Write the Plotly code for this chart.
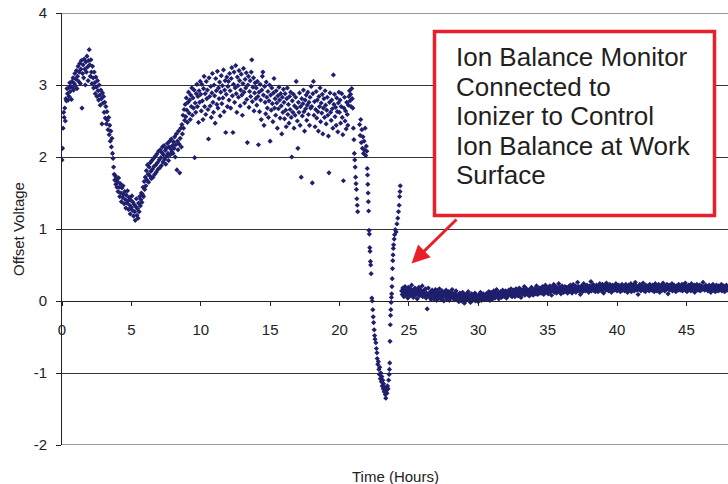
import numpy as np
import plotly.graph_objects as go

STEP = 0.04  # hours between logged readings

# Offset voltage readings in hundredths of a volt, logged every STEP hours.
v_00 = [196,212,240,262,255,268,250,281,278,295, 288,279,296,284,303,291,298,280,305,296,
        310,293,302,316,299,308,320,295,312,326, 305,318,330,302,322,334,268,316,328,310,
        336,322,300,332,318,340,325,306,334,349]
v_02 = [328,312,335,318,302,326,310,296,318,303, 288,311,297,284,306,292,279,300,286,272,
        293,281,246,289,275,284,262,276,254,270, 246,263,251,238,255,231,244,222,236,214,
        226,205,198,186,176,168,174,162,171,158]
v_04 = [166,152,171,158,145,163,150,138,157,144, 160,148,135,152,141,129,147,136,153,139,
        127,144,133,121,140,130,146,126,137,118, 134,124,112,131,142,119,128,115,136,124,
        145,132,141,150,137,148,158,145,166,155]
v_06 = [172,160,181,168,189,176,165,186,174,192, 180,170,195,183,172,198,187,176,201,189,
        179,204,192,183,208,196,185,210,199,188, 206,214,193,203,216,197,209,190,212,201,
        219,205,195,214,222,203,211,225,207,216]
v_08 = [205,221,212,228,200,217,232,182,222,210, 236,218,178,226,240,214,245,232,258,240,
        266,251,273,256,282,265,248,276,290,261, 279,252,286,270,296,258,282,268,293,199,
        275,262,288,301,270,284,248,292,276,305]
v_10 = [287,264,301,278,252,295,312,270,288,259, 305,281,293,266,225,310,284,271,298,255,
        289,316,276,262,300,285,247,309,292,273, 319,268,296,281,304,257,290,313,274,299,
        282,321,263,293,306,234,287,311,270,298]
v_12 = [305,279,316,292,268,309,324,285,234,301, 318,276,296,327,288,262,311,299,283,320,
        306,271,293,315,286,258,302,323,290,275, 308,296,317,280,220,300,312,269,291,306,
        284,318,335,277,297,310,264,289,303,281]
v_14 = [296,272,305,284,217,290,263,301,279,252, 293,312,318,286,244,298,276,260,304,283,
        268,291,255,278,300,222,286,265,296,274, 249,289,309,268,281,258,292,275,240,285,
        267,297,279,254,288,271,232,283,262,294]
v_16 = [276,253,288,265,242,281,296,259,273,247, 284,266,290,255,200,278,262,287,240,271,
        258,283,305,268,250,212,276,262,289,244, 270,172,281,257,274,293,263,236,279,267,
        286,251,272,290,259,276,244,283,268,298]
v_18 = [270,164,288,305,258,277,242,266,291,254, 279,263,236,284,270,296,249,275,261,287,
        232,268,281,255,292,272,246,265,283,258, 229,178,276,289,262,251,279,267,240,314,
        273,287,256,269,244,282,263,235,275,290]
v_20 = [262,279,247,270,288,255,231,167,268,283, 250,264,239,276,259,244,272,284,292,278,
        287,270,295,281,268,240]

# Sparse readings through the excursion (hours, volts)
dip_hours = [21.04,21.07,21.10,21.13,21.16,21.19,21.22,21.25,21.28,21.31,
             21.45,21.49,21.53,21.57,21.61,21.65,21.69,21.73,21.77,21.81,21.85,21.89,21.93,21.97,
             22.00,22.02,22.04,22.06,22.08,22.10,22.13,22.15,22.18,22.20,22.23,22.25,22.28,22.33,22.36,22.40,22.43,22.46,22.50,22.53,22.56,
             22.62,22.66,22.70,22.72,22.76,22.80,22.84,22.88,22.90,22.94,22.98,23.02,23.05,23.08,23.12,23.15,23.18,23.22,23.26,23.30,23.34,23.38,23.42,23.46,23.50,23.54,23.58,
             23.60,23.62,23.64,23.66,23.68,23.70,23.72,23.74,23.76,23.78,23.80,23.82,23.84,23.86,23.88,23.90,23.94,23.97,24.02,24.08,24.14,24.20,24.25,24.30,24.33,24.36,24.38]
dip_volts = [2.24,2.05,1.96,1.86,1.72,1.63,1.55,1.42,1.33,1.24,
             2.45,2.30,2.52,2.20,2.38,2.12,2.28,2.05,2.22,2.10,2.40,2.02,2.15,2.08,
             1.84,1.75,1.62,1.50,1.38,1.25,0.98,0.93,0.74,0.69,0.55,0.50,0.38,0.04,0.00,-0.12,-0.22,-0.30,-0.40,-0.48,-0.53,
             -0.58,-0.66,-0.72,-0.80,-0.88,-0.84,-0.95,-1.02,-0.92,-1.08,-1.00,-1.12,-1.05,-1.18,-1.10,-1.22,-1.15,-1.26,-1.20,-1.30,-1.35,-1.24,-1.28,-1.18,-1.22,-1.10,-1.02,
             -0.95,-0.86,-0.56,-0.33,-0.20,-0.12,-0.02,0.05,0.10,0.20,0.31,0.45,0.56,0.64,0.73,0.78,0.86,0.92,0.99,0.96,1.07,1.15,1.24,1.33,1.45,1.52,1.60]

# Controlled period, hundredths of a volt, every STEP hours
b_24 = [14,9,18,12,6,15,20,11,8,16,13,4,19,10,14,7,17,12,22,9,13,5,16,11,18,8,14,10,3,15,12,19,7,11,16,9,13,21,6,12,10,15,8,17,4,11,-11,9,18,7]
b_26 = [10,5,13,2,9,15,7,11,3,12,8,16,6,1,10,13,4,9,17,7,11,2,8,14,5,10,0,12,7,9,15,3,6,11,8,13,1,9,5,12,7,16,4,10,6,2,11,8,14,3]
b_28 = [6,2,9,-1,7,11,4,8,0,5,12,3,7,-3,9,5,1,10,6,3,13,2,8,4,-2,7,10,5,1,9,3,6,11,0,4,8,2,7,-1,5,9,3,12,6,1,8,4,10,2,7]
b_30 = [5,9,2,7,11,4,8,13,6,1,9,12,5,8,3,10,14,7,4,11,8,16,6,9,12,3,10,7,13,9,5,11,15,8,12,6,10,14,9,4,13,11,7,15,10,12,8,17,11,6]
b_32 = [12,8,15,10,6,13,17,11,9,14,7,12,18,10,13,5,15,11,9,16,12,20,8,14,11,17,13,9,15,12,7,16,14,10,19,13,11,8,15,12,17,14,10,21,13,9,16,12,18,11]
b_34 = [14,18,11,16,20,13,9,17,15,22,12,16,19,14,10,18,15,21,13,17,8,16,19,14,23,12,17,15,20,11,18,14,16,24,13,19,15,10,17,21,14,18,12,16,20,15,13,19,17,11]
b_36 = [16,20,13,18,22,15,19,11,17,23,14,18,16,21,12,19,17,26,15,20,14,18,9,16,21,17,13,19,24,16,18,14,20,17,22,15,19,12,18,21,16,27,14,19,17,23,15,18,20,13]
b_38 = [18,22,15,19,13,21,17,24,16,20,14,19,23,17,11,20,18,22,15,25,18,16,21,14,19,23,17,20,12,18,22,16,19,15,21,18,24,17,14,20,18,22,16,19,13,21,17,23,15,19]
b_40 = [17,21,14,19,23,16,20,12,18,22,15,19,17,24,13,20,18,16,22,14,19,26,17,21,15,18,9,20,16,23,18,14,21,17,19,25,15,20,18,13,22,17,19,16,21,18,14,23,17,20]
b_42 = [19,15,22,17,20,13,18,24,16,21,14,19,17,23,18,12,20,16,22,19,15,25,18,21,14,17,20,16,23,18,10,19,22,15,18,21,17,24,14,19,16,22,18,20,13,17,21,19,15,23]
b_44 = [18,21,15,20,17,23,14,19,22,16,18,25,15,20,13,19,17,22,16,21,18,14,24,17,20,15,19,22,12,18,21,16,23,19,15,20,17,22,14,18,21,16,19,26,17,20,15,18,22,16]
b_46 = [17,20,14,19,22,15,18,12,21,16,19,23,15,18,20,13,17,22,16,19,14,21,18,15,20,17,23,14,19,16,21,18,13,20,17,22,15,18]

y_ticks = [-2, -1, 0, 1, 2, 3, 4]
y_tick_text = ["-2", "-1", "0", "1", "2", "3", "4"]
x_ticks = [0, 5, 10, 15, 20, 25, 30, 35, 40, 45]

blocks = [(0.0, v_00), (2.0, v_02), (4.0, v_04), (6.0, v_06), (8.0, v_08), (10.0, v_10),
          (12.0, v_12), (14.0, v_14), (16.0, v_16), (18.0, v_18), (20.0, v_20),
          (24.48, b_24), (26.48, b_26), (28.48, b_28), (30.48, b_30), (32.48, b_32),
          (34.48, b_34), (36.48, b_36), (38.48, b_38), (40.48, b_40), (42.48, b_42),
          (44.48, b_44), (46.48, b_46)]

xs, ys = [], []
for start, vals in blocks:
    xs.extend(start + STEP * np.arange(len(vals)))
    ys.extend(np.array(vals) / 100.0)
xs.extend(dip_hours)
ys.extend(dip_volts)

note_lines = ["Ion Balance Monitor", "Connected to", "Ionizer to Control",
              "Ion Balance at Work", "Surface"]

FONT = "Arial, Liberation Sans, sans-serif"
GRID = "#333333"
L, R, T, B = 62, 0, 13, 39
W, H = 728, 484
PW, PH = W - L - R, H - T - B

def px(xp):
    return (xp - L) / PW

def py(yp):
    return (H - B - yp) / PH

fig = go.Figure()
fig.add_trace(go.Scatter(
    x=xs, y=ys, mode="markers",
    marker=dict(symbol="diamond", size=4, color="#1f1f6e", line=dict(width=0)),
    showlegend=False, hoverinfo="x+y"))

fig.update_layout(
    width=W, height=H,
    margin=dict(l=L, r=R, t=T, b=B, pad=0),
    paper_bgcolor="white", plot_bgcolor="white",
    font=dict(family=FONT, color="#222222"),
    xaxis=dict(range=[0, 48], tickvals=x_ticks, showgrid=False, zeroline=False,
               showline=True, linecolor="#222222", linewidth=1,
               ticks="outside", ticklen=4, tickcolor="#222222",
               anchor="free", position=1/3, tickfont=dict(size=15, color="#222222"),
               ticklabelstandoff=11),
    yaxis=dict(range=[min(y_ticks), max(y_ticks)], tickvals=y_ticks, ticktext=y_tick_text,
               showgrid=True, gridcolor=GRID,
               gridwidth=1, zeroline=False, showline=True, linecolor="#222222",
               linewidth=1, ticks="outside", ticklen=5, tickcolor="#222222",
               tickfont=dict(size=15, color="#222222"), ticklabelstandoff=6),
)

# Gridlines at the two ends of the value axis (plotly omits edge gridlines)
for yv in (min(y_ticks), max(y_ticks)):
    fig.add_shape(type="line", xref="paper", yref="y", x0=0, x1=1, y0=yv, y1=yv,
                  line=dict(color=GRID, width=1), layer="below")

# Axis titles
fig.add_annotation(text="Offset Voltage", xref="paper", yref="paper",
                   x=px(18), y=py(229), textangle=-90, showarrow=False,
                   font=dict(size=15, family=FONT, color="#222222"),
                   xanchor="center", yanchor="middle")
fig.add_annotation(text="Time (Hours)", xref="paper", yref="paper",
                   x=px(395), y=py(476), showarrow=False,
                   font=dict(size=15, family=FONT, color="#222222"),
                   xanchor="center", yanchor="middle")

# Callout box
fig.add_shape(type="rect", xref="paper", yref="paper",
              x0=px(434.5), x1=px(714.5), y0=py(215.5), y1=py(31.5),
              line=dict(color="#e8202a", width=3.5), fillcolor="white", layer="above")
for k, line in enumerate(note_lines):
    fig.add_annotation(text=line, xref="paper", yref="paper",
                       x=px(454), y=py(57 + 29.6 * k), showarrow=False,
                       xanchor="left", yanchor="middle",
                       font=dict(size=26, family=FONT, color="#231f20"))
# Arrow
fig.add_annotation(text="", xref="paper", yref="paper",
                   x=px(411.5), y=py(263.5), ax=458 - 411.5, ay=218 - 263.5,
                   showarrow=True, arrowhead=2, arrowsize=1.2, arrowwidth=3,
                   arrowcolor="#e8202a", standoff=0, startstandoff=0)

fig.write_html("out.html", config={"displayModeBar": False},
               post_script="document.body.style.margin='0px';document.body.style.padding='0px';")
